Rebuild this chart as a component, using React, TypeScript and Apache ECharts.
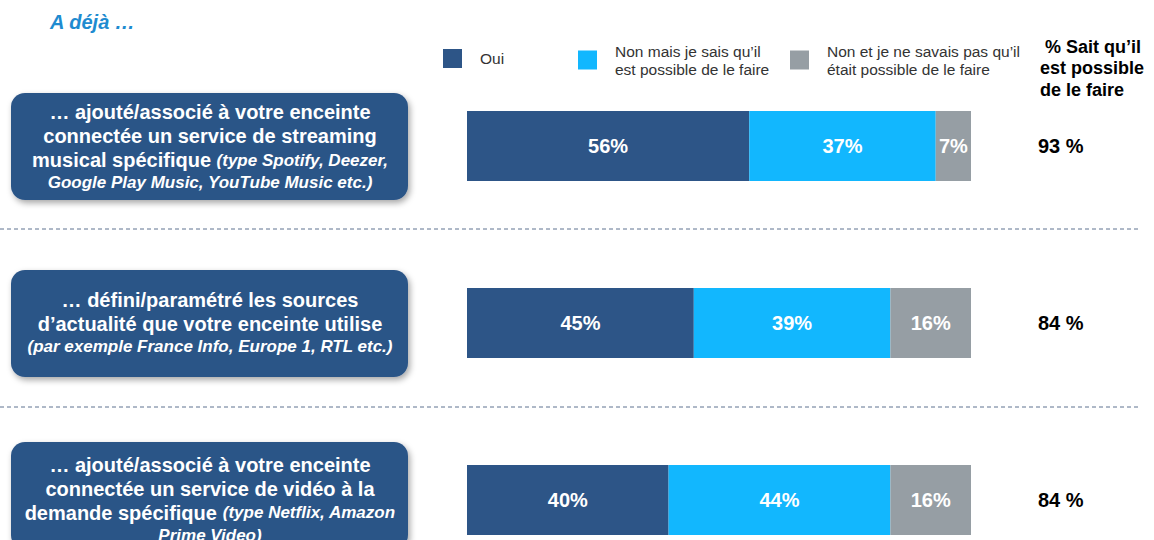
import React, { useEffect, useRef } from "react";
import * as echarts from "echarts";

// ---- data ----
const categories = ["streaming musical", "sources d'actualité", "vidéo à la demande"];
const seriesNames = [
  "Oui",
  "Non mais je sais qu\u2019il\nest possible de le faire",
  "Non et je ne savais pas qu\u2019il\nétait possible de le faire",
];
const ouiValues = [56, 45, 40];
const nonMaisValues = [37, 39, 44];
const nonSavaisValues = [7, 16, 16];
const knowValues = [93, 84, 84];

// Box label lines: [bold part, italic part]
const categoryLines: [string, string][][] = [
  [
    ["\u2026 ajouté/associé à votre enceinte", ""],
    ["connectée un service de streaming", ""],
    ["musical spécifique ", "(type Spotify, Deezer,"],
    ["", "Google Play Music, YouTube Music etc.)"],
  ],
  [
    ["\u2026 défini/paramétré les sources", ""],
    ["d\u2019actualité que votre enceinte utilise", ""],
    ["", "(par exemple France Info, Europe 1, RTL etc.)"],
  ],
  [
    ["\u2026 ajouté/associé à votre enceinte", ""],
    ["connectée un service de vidéo à la", ""],
    ["demande spécifique ", "(type Netflix, Amazon"],
    ["", "Prime Video)"],
  ],
];

const titleText = "A déjà \u2026";
const headerText = " % Sait qu\u2019il\nest possible\nde le faire";

const COLORS = ["#2D5587", "#12B7FE", "#969EA4"];
const FONT = "'Liberation Sans', Arial, sans-serif";

export default function App() {
  const ref = useRef<HTMLDivElement>(null);

  useEffect(() => {
    if (!ref.current) return;
    const chart = echarts.init(ref.current, null, { renderer: "svg" });

    const boxTops = [93, 270, 442];
    const boxHeight = 107;
    const boxCenters = [146.5, 322.5, 499];

    const boxes: any[] = categoryLines.map((lines, i) => {
      const text = lines
        .map(([b, it]) => (b ? `{b|${b}}` : "") + (it ? `{i|${it}}` : ""))
        .join("\n");
      return {
        type: "group",
        children: [
          {
            type: "rect",
            shape: { x: 11, y: boxTops[i], width: 397, height: boxHeight, r: 14 },
            style: {
              fill: "#2C5587",
              shadowBlur: 6,
              shadowColor: "rgba(0,0,0,0.35)",
              shadowOffsetX: 2,
              shadowOffsetY: 3,
            },
            z: 1,
          },
          {
            type: "text",
            z: 2,
            style: {
              x: 210,
              y: boxCenters[i],
              text,
              align: "center",
              verticalAlign: "middle",
              rich: {
                b: { fontFamily: FONT, fontSize: 20, fontWeight: "bold", fill: "#ffffff", lineHeight: 24 },
                i: {
                  fontFamily: FONT,
                  fontSize: 17,
                  fontWeight: "bold",
                  fontStyle: "italic",
                  fill: "#ffffff",
                  lineHeight: 21,
                },
              },
            },
          },
        ],
      };
    });

    const option: any = {
      animation: false,
      backgroundColor: "#ffffff",
      textStyle: { fontFamily: FONT },
      legend: [
        { left: 443, top: 49 },
        { left: 578, top: 42 },
        { left: 790, top: 42 },
      ].map((pos, i) => ({
        ...pos,
        padding: 0,
        data: [seriesNames[i]],
        icon: "rect",
        itemWidth: 19,
        itemHeight: 19,
        selectedMode: false,
        textStyle: {
          fontFamily: FONT,
          fontSize: 15.5,
          color: "#333333",
          lineHeight: 18,
          padding: [0, 0, 0, 13],
        },
      })),
      grid: { left: 467, width: 504, top: 57.5, height: 531 },
      xAxis: { type: "value", min: 0, max: 100, show: false },
      yAxis: [
        {
          type: "category",
          data: categories,
          inverse: true,
          axisLine: { show: false },
          axisTick: { show: false },
          axisLabel: { show: false },
          splitLine: { show: false },
        },
        {
          type: "category",
          data: knowValues.map((v) => `${v} %`),
          inverse: true,
          position: "right",
          axisLine: { show: false },
          axisTick: { show: false },
          splitLine: { show: false },
          axisLabel: {
            align: "left",
            margin: 67,
            fontFamily: FONT,
            fontSize: 20,
            fontWeight: "bold",
            color: "#000000",
          },
        },
      ],
      series: [ouiValues, nonMaisValues, nonSavaisValues].map((data, i) => ({
        name: seriesNames[i],
        type: "bar",
        stack: "total",
        barWidth: 70,
        yAxisIndex: 0,
        data,
        itemStyle: { color: COLORS[i] },
        label: {
          show: true,
          position: "inside",
          formatter: "{c}%",
          fontFamily: FONT,
          fontSize: 20,
          fontWeight: "bold",
          color: "#ffffff",
        },
      })),
      graphic: [
        {
          type: "text",
          style: {
            x: 50,
            y: 22,
            text: titleText,
            fontFamily: FONT,
            fontSize: 20,
            fontWeight: "bold",
            fontStyle: "italic",
            fill: "#1E8BD0",
            verticalAlign: "middle",
          },
        },
        {
          type: "text",
          style: {
            x: 1040,
            y: 36,
            text: headerText,
            fontFamily: FONT,
            fontSize: 18,
            fontWeight: "bold",
            fill: "#000000",
            lineHeight: 21.5,
            verticalAlign: "top",
          },
        },
        ...[229, 407].map((y) => ({
          type: "line",
          shape: { x1: 0, y1: y, x2: 1140, y2: y },
          style: { stroke: "#5F7290", lineWidth: 1, lineDash: [4, 3] },
        })),
        ...boxes,
      ],
    };

    chart.setOption(option);
    return () => chart.dispose();
  }, []);

  return (
    <div
      ref={ref}
      style={{ position: "fixed", left: 0, top: 0, width: 1154, height: 600 }}
    />
  );
}
